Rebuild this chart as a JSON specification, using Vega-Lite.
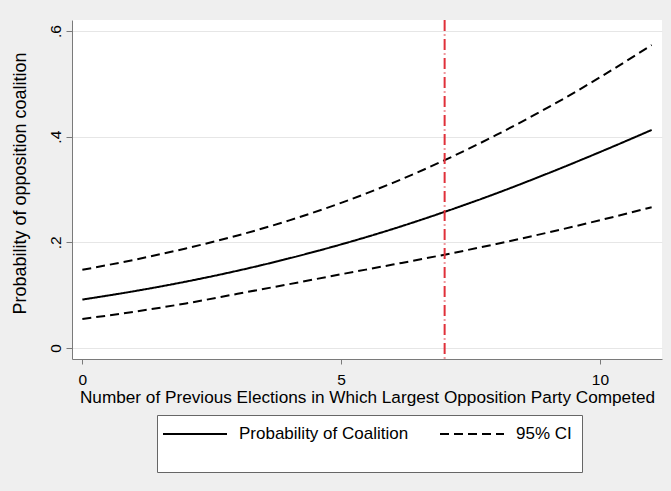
{
  "$schema": "https://vega.github.io/schema/vega-lite/v6.json",
  "width": 590,
  "height": 339,
  "autosize": {"type": "none"},
  "padding": {"left": 72, "top": 20, "right": 9, "bottom": 132},
  "background": "#efefef",
  "config": {
    "view": {"fill": "white", "stroke": null},
    "font": "Liberation Sans"
  },
  "datasets": {
    "curves": [
      {"elections": 0, "prob": 0.0917, "series": "Probability of Coalition", "line": "estimate"},
      {"elections": 1, "prob": 0.1075, "series": "Probability of Coalition", "line": "estimate"},
      {"elections": 2, "prob": 0.1256, "series": "Probability of Coalition", "line": "estimate"},
      {"elections": 3, "prob": 0.1463, "series": "Probability of Coalition", "line": "estimate"},
      {"elections": 4, "prob": 0.1698, "series": "Probability of Coalition", "line": "estimate"},
      {"elections": 5, "prob": 0.1961, "series": "Probability of Coalition", "line": "estimate"},
      {"elections": 6, "prob": 0.2253, "series": "Probability of Coalition", "line": "estimate"},
      {"elections": 7, "prob": 0.2577, "series": "Probability of Coalition", "line": "estimate"},
      {"elections": 8, "prob": 0.2927, "series": "Probability of Coalition", "line": "estimate"},
      {"elections": 9, "prob": 0.3307, "series": "Probability of Coalition", "line": "estimate"},
      {"elections": 10, "prob": 0.3708, "series": "Probability of Coalition", "line": "estimate"},
      {"elections": 11, "prob": 0.4127, "series": "Probability of Coalition", "line": "estimate"},
      {"elections": 0, "prob": 0.148, "series": "95% CI", "line": "upper"},
      {"elections": 1, "prob": 0.1669, "series": "95% CI", "line": "upper"},
      {"elections": 2, "prob": 0.1885, "series": "95% CI", "line": "upper"},
      {"elections": 3, "prob": 0.213, "series": "95% CI", "line": "upper"},
      {"elections": 4, "prob": 0.2416, "series": "95% CI", "line": "upper"},
      {"elections": 5, "prob": 0.2747, "series": "95% CI", "line": "upper"},
      {"elections": 6, "prob": 0.3126, "series": "95% CI", "line": "upper"},
      {"elections": 7, "prob": 0.3555, "series": "95% CI", "line": "upper"},
      {"elections": 8, "prob": 0.4032, "series": "95% CI", "line": "upper"},
      {"elections": 9, "prob": 0.4554, "series": "95% CI", "line": "upper"},
      {"elections": 10, "prob": 0.5122, "series": "95% CI", "line": "upper"},
      {"elections": 11, "prob": 0.5735, "series": "95% CI", "line": "upper"},
      {"elections": 0, "prob": 0.055, "series": "95% CI", "line": "lower"},
      {"elections": 1, "prob": 0.0686, "series": "95% CI", "line": "lower"},
      {"elections": 2, "prob": 0.0844, "series": "95% CI", "line": "lower"},
      {"elections": 3, "prob": 0.1026, "series": "95% CI", "line": "lower"},
      {"elections": 4, "prob": 0.1209, "series": "95% CI", "line": "lower"},
      {"elections": 5, "prob": 0.1396, "series": "95% CI", "line": "lower"},
      {"elections": 6, "prob": 0.1579, "series": "95% CI", "line": "lower"},
      {"elections": 7, "prob": 0.1767, "series": "95% CI", "line": "lower"},
      {"elections": 8, "prob": 0.1969, "series": "95% CI", "line": "lower"},
      {"elections": 9, "prob": 0.2186, "series": "95% CI", "line": "lower"},
      {"elections": 10, "prob": 0.2418, "series": "95% CI", "line": "lower"},
      {"elections": 11, "prob": 0.2664, "series": "95% CI", "line": "lower"}
    ],
    "marker": [
      {"elections": 7}
    ]
  },
  "layer": [
    {
      "data": {"name": "curves"},
      "mark": {"type": "line", "color": "black", "strokeWidth": 2, "interpolate": "monotone"},
      "encoding": {
        "x": {
          "field": "elections",
          "type": "quantitative",
          "scale": {"domain": [-0.2, 11.2], "nice": false, "zero": false},
          "axis": {
            "title": "Number of Previous Elections in Which Largest Opposition Party Competed",
            "values": [0, 5, 10],
            "grid": false,
            "domainColor": "#7a7a7a",
            "tickColor": "#7a7a7a",
            "tickSize": 5,
            "labelFontSize": 15.5,
            "labelColor": "black",
            "labelPadding": 8,
            "labelFlush": false,
            "titleFontSize": 17.2,
            "titleFontWeight": "normal",
            "titleColor": "black",
            "titlePadding": 1
          }
        },
        "y": {
          "field": "prob",
          "type": "quantitative",
          "scale": {"domain": [-0.0208, 0.6208], "nice": false, "zero": false},
          "axis": {
            "title": "Probability of opposition coalition",
            "values": [0, 0.2, 0.4, 0.6],
            "labelExpr": "datum.value == 0 ? '0' : '.' + round(datum.value * 10)",
            "grid": true,
            "gridColor": "#e6e6e6",
            "domainColor": "#7a7a7a",
            "tickColor": "#7a7a7a",
            "tickSize": 6,
            "labelAngle": -90,
            "labelAlign": "center",
            "labelBaseline": "bottom",
            "labelFontSize": 15.5,
            "labelColor": "black",
            "labelPadding": 3,
            "labelFlush": false,
            "titleFontSize": 18,
            "titleFontWeight": "normal",
            "titleColor": "black",
            "titleX": -43,
            "titleY": 163
          }
        },
        "detail": {"field": "line", "type": "nominal"},
        "strokeDash": {
          "field": "series",
          "type": "nominal",
          "scale": {"domain": ["Probability of Coalition", "95% CI"], "range": [[1, 0], [9, 5]]},
          "legend": {
            "orient": "none",
            "legendX": 85,
            "legendY": 395,
            "direction": "horizontal",
            "columns": 2,
            "title": " ",
            "titleOrient": "bottom",
            "titleFontSize": 10,
            "titlePadding": 10,
            "padding": 10,
            "fillColor": "white",
            "strokeColor": "#666666",
            "symbolType": "M-4,0H4",
            "symbolSize": 256,
            "symbolOffset": 19,
            "symbolStrokeWidth": 2,
            "symbolStrokeColor": "black",
            "labelFontSize": 17,
            "labelColor": "black",
            "labelOffset": 35,
            "labelLimit": 300,
            "columnPadding": 27
          }
        }
      }
    },
    {
      "data": {"name": "marker"},
      "mark": {"type": "rule", "color": "#e0303a", "strokeWidth": 2, "strokeDash": [11, 3.5, 1, 3.5]},
      "encoding": {
        "x": {"field": "elections", "type": "quantitative"}
      }
    }
  ]
}
